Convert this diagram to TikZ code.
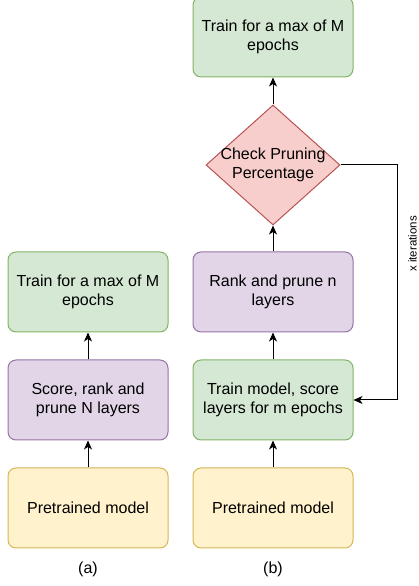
\documentclass[tikz,border=0pt]{standalone}
\usepackage{fontspec}
\setmainfont{Liberation Sans}
\usetikzlibrary{arrows.meta,positioning,calc,shapes.geometric}

\definecolor{gfill}{HTML}{D5E8D4}\definecolor{gdraw}{HTML}{82B366}
\definecolor{pfill}{HTML}{E1D5E7}\definecolor{pdraw}{HTML}{9673A6}
\definecolor{yfill}{HTML}{FFF2CC}\definecolor{ydraw}{HTML}{D6B656}
\definecolor{rfill}{HTML}{F8CECC}\definecolor{rdraw}{HTML}{B85450}

\begin{document}
\begin{tikzpicture}[node distance=27pt and 24pt,
font=\fontsize{16pt}{19.5pt}\selectfont,
box/.style={rectangle,rounded corners=8pt,line width=1pt,align=center,
  minimum width=160pt,minimum height=80pt,inner sep=2pt},
grn/.style={box,fill=gfill,draw=gdraw},
pur/.style={box,fill=pfill,draw=pdraw},
yel/.style={box,fill=yfill,draw=ydraw},
arr/.style={line width=1pt,-{Stealth[length=9pt,width=8pt,inset=2.5pt]}}]

\useasboundingbox (0,0) rectangle (419pt,586pt);

% (a)
\node[yel] (1) at (88pt,78pt) {Pretrained model};
\node[pur, above=of 1] (2) {Score, rank and\\prune N layers};
\node[grn, above=of 2] (3) {Train for a max of M\\epochs};
\node[below=10pt of 1] (la) {(a)};

% (b)
\node[yel, right=of 1] (4) {Pretrained model};
\node[grn, above=of 4] (5) {Train model, score\\layers for m epochs};
\node[pur, above=of 5] (6) {Rank and prune n\\layers};
\node[diamond, draw=rdraw, fill=rfill, line width=1pt, minimum width=134pt,
  minimum height=120pt, inner sep=0pt, above=26pt of 6,
  label={[align=center]center:Check Pruning\\Percentage}] (7) {};
\node[grn, above=27pt of 7] (8) {Train for a max of M\\epochs};
\node[below=10pt of 4] (lb) {(b)};

\draw[arr] (1) -- (2);
\draw[arr] (2) -- (3);
\draw[arr] (4) -- (5);
\draw[arr] (5) -- (6);
\draw[arr] (6) -- (7);
\draw[arr] (7) -- (8);

% loop back
\coordinate[right=44pt of 5.east] (p);
\draw[arr] (7.east) -| (p) -- (5.east);
\node[rotate=90, inner sep=1pt, font=\fontsize{11.5pt}{14pt}\selectfont] at ($(p)+(15pt,156pt)$) (it) {x iterations};
\end{tikzpicture}
\end{document}
